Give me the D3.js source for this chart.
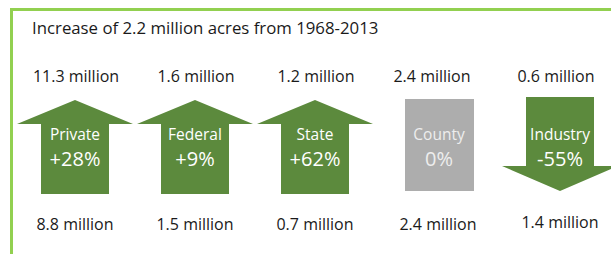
<!DOCTYPE html>
<html>
<head>
<meta charset="utf-8">
<script src="https://cdn.jsdelivr.net/npm/d3@7"></script>
<style>
  body { margin: 0; background: #fff; }
  svg { display: block; font-family: "Open Sans", sans-serif; }
  .label { fill: #1a1a1a; font-size: 16px; text-anchor: middle; }
  .title { fill: #1a1a1a; font-size: 16.8px; }
</style>
</head>
<body>
<svg width="611" height="254"></svg>
<script>
const svg = d3.select('svg');
const width = +svg.attr('width');
const height = +svg.attr('height');

// data
const title = 'Increase of 2.2 million acres from 1968-2013';
const categories = ['Private', 'Federal', 'State', 'County', 'Industry'];
const changeLabels = ['+28%', '+9%', '+62%', '0%', '-55%'];
const acres2013 = ['11.3 million', '1.6 million', '1.2 million', '2.4 million', '0.6 million'];
const acres1968 = ['8.8 million', '1.5 million', '0.7 million', '2.4 million', '1.4 million'];
const direction = ['up', 'up', 'up', 'flat', 'down'];

const green = '#5c8a3d';
const grey = '#adadad';
const border = '#92d050';

// x positions of each category centre
const xScale = d3.scalePoint()
    .domain(categories)
    .range([75, 555]);

// vertical layout of the arrow band
const yScale = d3.scaleLinear()
    .domain([0, 1])
    .range([100, 194]);

const shaftW = 68;
const headW = 116;
const headH = 24;

const arrowPath = (cx, dir) => {
    const top = yScale(0), bottom = yScale(1);
    const p = d3.path();
    if (dir === 'up') {
        p.moveTo(cx, top);
        p.lineTo(cx + headW / 2, top + headH);
        p.lineTo(cx + shaftW / 2, top + headH);
        p.lineTo(cx + shaftW / 2, bottom);
        p.lineTo(cx - shaftW / 2, bottom);
        p.lineTo(cx - shaftW / 2, top + headH);
        p.lineTo(cx - headW / 2, top + headH);
    } else if (dir === 'down') {
        const t = top - 3, b = bottom - 3;
        p.moveTo(cx - shaftW / 2, t);
        p.lineTo(cx + shaftW / 2, t);
        p.lineTo(cx + shaftW / 2, b - headH - 1);
        p.lineTo(cx + headW / 2, b - headH - 1);
        p.lineTo(cx, b);
        p.lineTo(cx - headW / 2, b - headH - 1);
        p.lineTo(cx - shaftW / 2, b - headH - 1);
    } else {
        p.rect(cx - shaftW / 2, top - 1, shaftW + 1, bottom - top - 2);
    }
    p.closePath();
    return p.toString();
};

const offsetX = (d, i) => (direction[i] === 'flat' ? 4 : direction[i] === 'down' ? 5 : 0);

// frame
svg.append('path')
    .attr('d', `M${width},9.5 H11.5 V${height}`)
    .attr('fill', 'none')
    .attr('stroke', border)
    .attr('stroke-width', 3);

svg.append('text')
    .attr('class', 'title')
    .attr('x', 32)
    .attr('y', 34)
    .text(title);

const g = svg.append('g');

const items = g.selectAll('g.item')
    .data(categories)
    .join('g')
    .attr('class', 'item');

items.append('path')
    .attr('d', (d, i) => arrowPath(xScale(d) + offsetX(d, i), direction[i]))
    .attr('fill', (d, i) => direction[i] === 'flat' ? grey : green);

items.append('text')
    .attr('x', (d, i) => xScale(d) + offsetX(d, i))
    .attr('y', 140)
    .attr('text-anchor', 'middle')
    .attr('fill', (d, i) => direction[i] === 'flat' ? '#eeeeee' : '#ffffff')
    .attr('font-size', 15.5)
    .text(d => d);

items.append('text')
    .attr('x', (d, i) => xScale(d) + offsetX(d, i))
    .attr('y', 166)
    .attr('text-anchor', 'middle')
    .attr('fill', (d, i) => direction[i] === 'flat' ? '#eeeeee' : '#ffffff')
    .attr('font-size', 20)
    .text((d, i) => changeLabels[i]);

items.append('text')
    .attr('class', 'label')
    .attr('x', (d, i) => xScale(d) + (direction[i] === 'flat' ? -3 : 1))
    .attr('y', 82)
    .text((d, i) => acres2013[i]);

items.append('text')
    .attr('class', 'label')
    .attr('x', (d, i) => xScale(d) + offsetX(d, i) - (direction[i] === 'flat' ? 1 : 0))
    .attr('y', (d, i) => direction[i] === 'down' ? 228 : 230)
    .text((d, i) => acres1968[i]);
</script>
</body>
</html>
